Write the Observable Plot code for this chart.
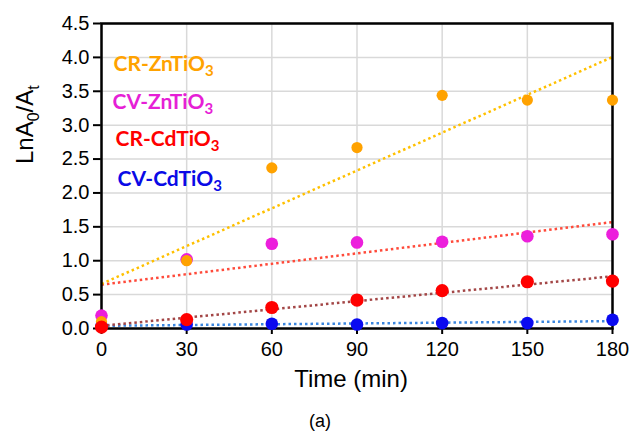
<!DOCTYPE html>
<html>
<head>
<meta charset="utf-8">
<script src="https://cdn.jsdelivr.net/npm/d3@7"></script>
<script src="https://cdn.jsdelivr.net/npm/@observablehq/plot@0.6"></script>
<style>
  body { margin: 0; background: #fff; }
  #chart { width: 635px; height: 434px; }
</style>
</head>
<body>
<div id="chart"></div>
<script>
// ---- data ----
const times = [0, 30, 60, 90, 120, 150, 180];
const crZn = [0.10, 1.00, 2.37, 2.67, 3.44, 3.37, 3.37];
const cvZn = [0.19, 1.02, 1.25, 1.27, 1.28, 1.36, 1.39];
const crCd = [0.02, 0.13, 0.31, 0.42, 0.56, 0.69, 0.70];
const cvCd = [0.04, 0.06, 0.07, 0.06, 0.08, 0.08, 0.13];
const seriesNames = ["CR-ZnTiO3", "CV-ZnTiO3", "CR-CdTiO3", "CV-CdTiO3"];
const yTicks = [0, 0.5, 1, 1.5, 2, 2.5, 3, 3.5, 4, 4.5];
const xLabel = "Time (min)";
const yLabel = "LnA0/At";
const caption = "(a)";

const seriesValues = [crZn, cvZn, crCd, cvCd];
const pointColors = ["#ffa200", "#ec1fdc", "#ff0000", "#0a0af0"];
const textColors = ["#ffa200", "#e61fd6", "#ff0000", "#0a0ae6"];
const trendColors = ["#ffc000", "#ff4a3a", "#a34646", "#3a86df"];
const dotRadius = [5.6, 6.3, 6.6, 6.3];
const legendDx = [12, 11, 14, 16];
const legendDy = [33, 71, 108, 148];

const rows = seriesValues.map((vals, i) =>
  times.map((t, j) => ({ series: seriesNames[i], time: t, value: vals[j] })));

// least-squares fitted values (Excel-style linear trendlines)
function fitted(vals) {
  const mx = d3.mean(times), my = d3.mean(vals);
  const sxy = d3.sum(times, (t, j) => (t - mx) * (vals[j] - my));
  const sxx = d3.sum(times, t => (t - mx) ** 2);
  const b = sxy / sxx, a = my - b * mx;
  return [times[0], times[times.length - 1]].map(t => ({ time: t, value: a + b * t }));
}

const marks = [
  Plot.ruleX(times, { stroke: "#d9d9d9", strokeWidth: 1.5 }),
  Plot.ruleY(yTicks, { stroke: "#d9d9d9", strokeWidth: 1.5 }),
];
// dotted trend lines under the points
[3, 2, 1, 0].forEach(i => {
  marks.push(Plot.line(fitted(seriesValues[i]), {
    x: "time", y: "value", stroke: trendColors[i],
    strokeWidth: 2.5, strokeDasharray: "2.5,3", strokeLinecap: "butt"
  }));
});
marks.push(Plot.frame({ stroke: "black", strokeWidth: 2.5 }));
// points, drawn in the reference order
[3, 1, 0, 2].forEach(i => {
  marks.push(Plot.dot(rows[i], {
    x: "time", y: "value", r: dotRadius[i], fill: pointColors[i], stroke: "none"
  }));
});
// legend labels
seriesNames.forEach((name, i) => {
  marks.push(Plot.text([name], {
    frameAnchor: "top-left", dx: legendDx[i], dy: legendDy[i],
    textAnchor: "start", fill: textColors[i], fontWeight: "bold",
    fontSize: 21, fontFamily: "Lato"
  }));
});
marks.push(Plot.text([xLabel], { frameAnchor: "bottom", dx: -6, dy: 58, fontSize: 24, fill: "black" }));
marks.push(Plot.text([caption], { frameAnchor: "bottom", dx: -37, dy: 98, fontSize: 18, fill: "black" }));
marks.push(Plot.text([yLabel], { frameAnchor: "left", dx: -76, dy: -12, rotate: -90, fontSize: 24, fill: "black" }));

const plot = Plot.plot({
  width: 635,
  height: 434,
  marginLeft: 101,
  marginRight: 23,
  marginTop: 23,
  marginBottom: 106,
  style: { fontFamily: "Liberation Sans, Arial, sans-serif", fontSize: "20px", color: "black", background: "white" },
  x: { domain: [0, 180], ticks: times, tickSize: 6, tickPadding: 7, label: null },
  y: { domain: [0, 4.5], ticks: yTicks, tickFormat: d3.format(".1f"), tickSize: 8, tickPadding: 4, label: null },
  marks
});

// subscripts
plot.querySelectorAll("text").forEach(t => {
  const s = t.textContent;
  const ns = "http://www.w3.org/2000/svg";
  const add = (txt, size, dy) => {
    const sp = document.createElementNS(ns, "tspan");
    sp.textContent = txt;
    if (size) sp.setAttribute("font-size", size);
    if (dy) sp.setAttribute("dy", dy);
    t.appendChild(sp);
  };
  if (/TiO3$/.test(s)) {
    t.textContent = s.slice(0, -1);
    add("3", 15, 5);
  } else if (s === yLabel) {
    t.textContent = "LnA";
    add("0", 16, 6);
    add("/A", 24, -6);
    add("t", 16, 6);
  }
});
plot.querySelectorAll('g[aria-label="x-axis tick"], g[aria-label="y-axis tick"]').forEach(g => g.setAttribute("stroke-width", 2));
document.getElementById("chart").appendChild(plot);
</script>
</body>
</html>
